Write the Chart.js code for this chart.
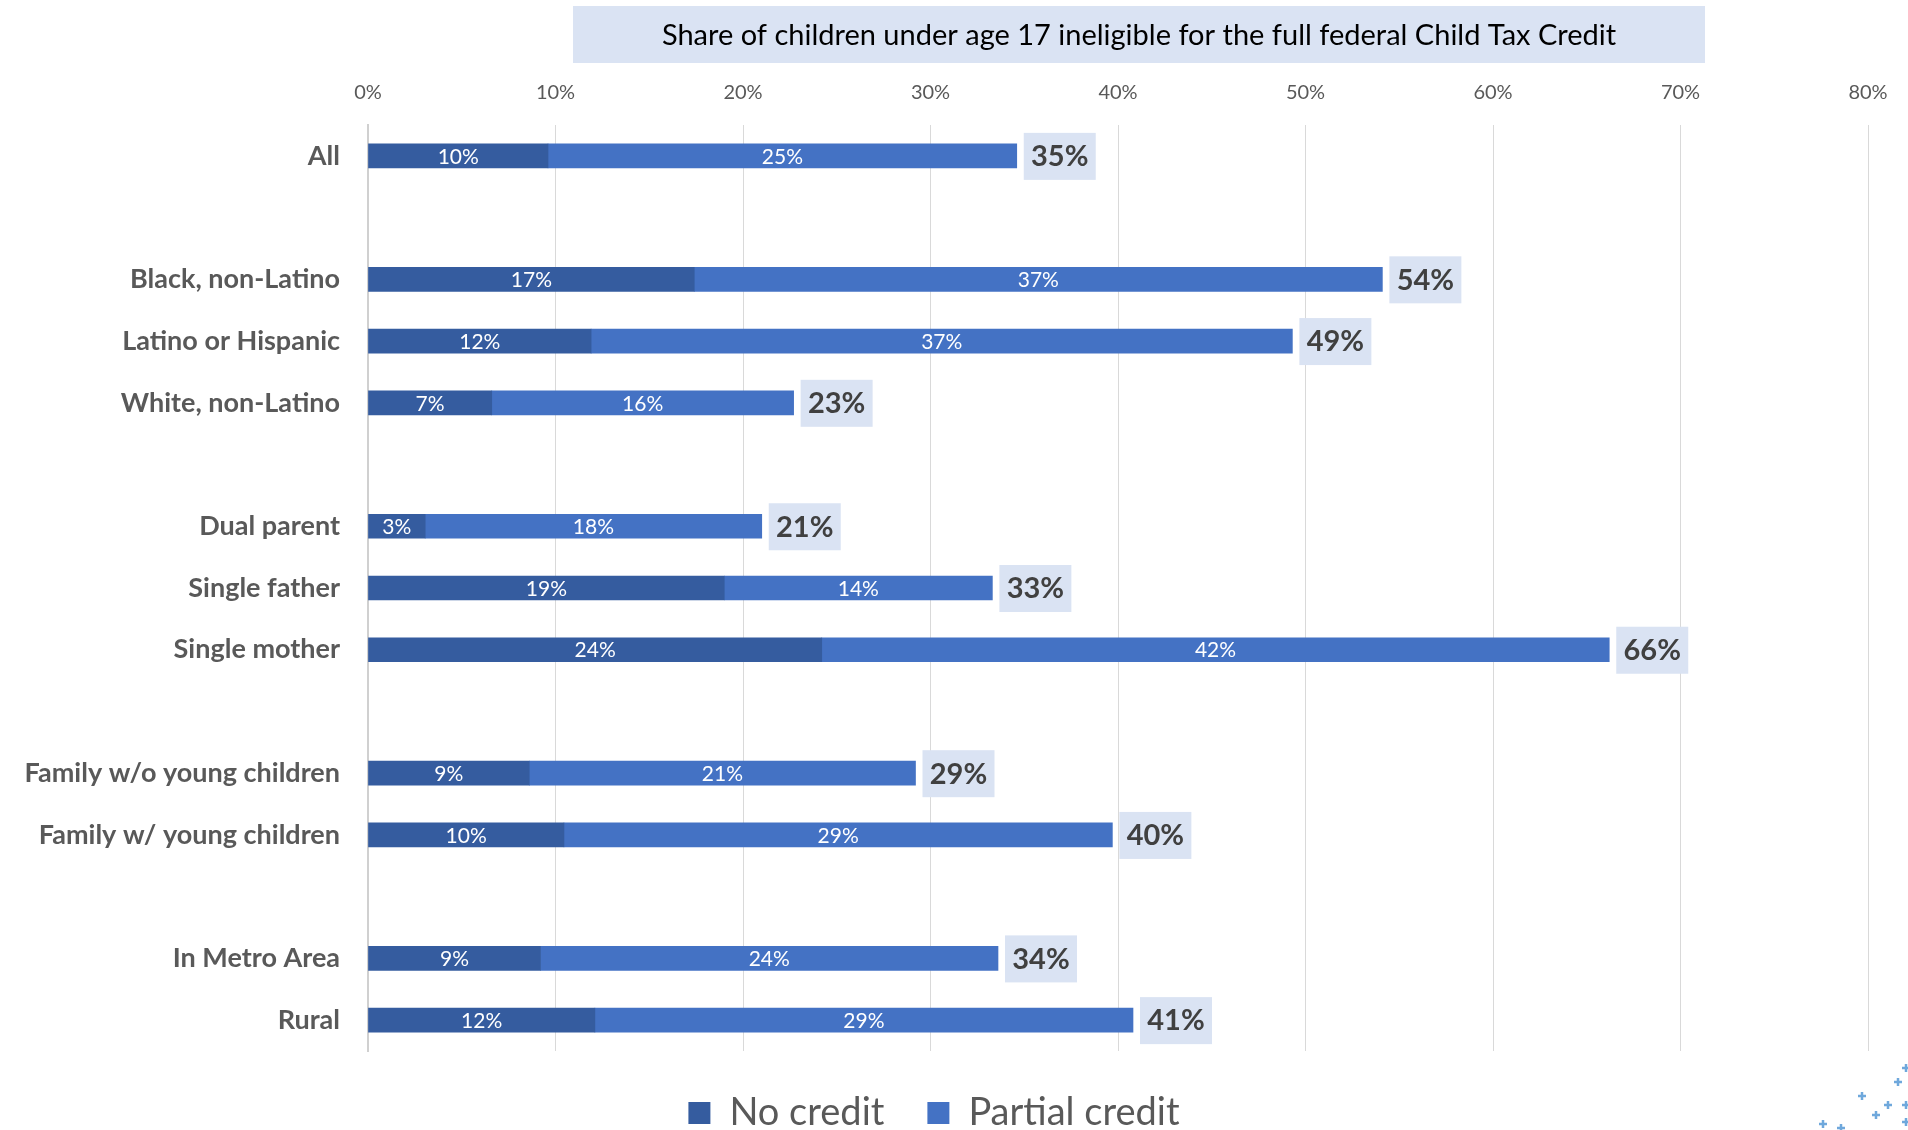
<!DOCTYPE html>
<html>
<head>
<meta charset="utf-8">
<script src="https://cdn.jsdelivr.net/npm/chart.js@4.4.1/dist/chart.umd.min.js"></script>
<style>
  html, body { margin: 0; padding: 0; background: #fff; }
  #wrap { width: 1908px; height: 1130px; }
</style>
</head>
<body>
<div id="wrap"><canvas id="chart" width="1908" height="1130"></canvas></div>
<script>
const chartTitle = 'Share of children under age 17 ineligible for the full federal Child Tax Credit';
const categories = ['All', '', 'Black, non-Latino', 'Latino or Hispanic', 'White, non-Latino', '',
    'Dual parent', 'Single father', 'Single mother', '',
    'Family w/o young children', 'Family w/ young children', '', 'In Metro Area', 'Rural'];
const noCredit = [9.6, null, 17.4, 11.9, 6.6, null, 3.05, 19.0, 24.2, null, 8.6, 10.45, null, 9.2, 12.1];
const partialCredit = [25.0, null, 36.7, 37.4, 16.1, null, 17.95, 14.3, 42.0, null, 20.6, 29.25, null, 24.4, 28.7];
const xMin = 0;
const xMax = 80;
const xStep = 10;

// title banner at the top + little logo crosses in the corner
const titleBox = {
    id: 'titleBox',
    beforeDraw(chart) {
        const ctx = chart.ctx;
        ctx.save();
        ctx.fillStyle = '#DAE3F3';
        ctx.fillRect(573, 6, 1132, 57);
        ctx.fillStyle = '#000';
        ctx.font = '29px Lato';
        ctx.textAlign = 'center';
        ctx.textBaseline = 'middle';
        ctx.fillText(chartTitle, 1139, 36);

        const crosses = [[1898, 1082], [1862, 1096], [1888, 1105], [1876, 1115], [1823, 1124],
            [1841, 1128], [1906, 1068], [1906, 1105], [1906, 1122]];
        ctx.strokeStyle = '#6FA8DC';
        ctx.lineWidth = 2.5;
        crosses.forEach(([cx, cy]) => {
            ctx.beginPath();
            ctx.moveTo(cx - 4, cy); ctx.lineTo(cx + 4, cy);
            ctx.moveTo(cx, cy - 4); ctx.lineTo(cx, cy + 4);
            ctx.stroke();
        });
        ctx.restore();
    }
};

// value labels inside the bars and totals at the end
const barLabels = {
    id: 'barLabels',
    afterDatasetsDraw(chart) {
        const ctx = chart.ctx;
        ctx.save();
        ctx.textAlign = 'center';
        ctx.textBaseline = 'middle';
        chart.data.datasets.forEach((ds, i) => {
            const meta = chart.getDatasetMeta(i);
            meta.data.forEach((bar, j) => {
                const v = ds.data[j];
                if (v == null) return;
                ctx.fillStyle = '#fff';
                ctx.font = '21px Lato';
                ctx.fillText(Math.round(v) + '%', (bar.x + bar.base) / 2, bar.y + 1);
            });
        });
        const last = chart.getDatasetMeta(1);
        last.data.forEach((bar, j) => {
            if (partialCredit[j] == null) return;
            const total = noCredit[j] + partialCredit[j];
            const x0 = bar.x + 7;
            ctx.fillStyle = '#DAE3F3';
            ctx.fillRect(x0, bar.y - 23, 72, 47);
            ctx.fillStyle = '#404040';
            ctx.font = 'bold 29px Lato';
            ctx.fillText(Math.round(total) + '%', x0 + 36, bar.y + 1);
        });
        ctx.restore();
    }
};

const ctx = document.getElementById('chart').getContext('2d');
new Chart(ctx, {
    type: 'bar',
    data: {
        labels: categories,
        datasets: [
            {
                label: 'No credit',
                data: noCredit,
                backgroundColor: '#355C9F',
                barThickness: 24
            },
            {
                label: 'Partial credit',
                data: partialCredit,
                backgroundColor: '#4472C4',
                barThickness: 24
            }
        ]
    },
    options: {
        indexAxis: 'y',
        responsive: false,
        animation: false,
        layout: {
            padding: { top: 66, right: 40, left: 0, bottom: -12 }
        },
        plugins: {
            title: { display: false },
            tooltip: { enabled: false },
            legend: {
                position: 'bottom',
                labels: {
                    color: '#595959',
                    font: { family: 'Lato', size: 38 },
                    boxWidth: 22,
                    boxHeight: 22,
                    padding: 43
                }
            }
        },
        scales: {
            x: {
                position: 'top',
                stacked: true,
                min: xMin,
                max: xMax,
                ticks: {
                    stepSize: xStep,
                    color: '#595959',
                    font: { family: 'Lato', size: 20 },
                    padding: 20,
                    callback: v => v + '%'
                },
                grid: { color: '#D9D9D9', drawTicks: false },
                border: { display: false },
                afterFit: s => { s.height = 59; }
            },
            y: {
                stacked: true,
                ticks: {
                    color: '#595959',
                    font: { family: 'Lato', size: 27, weight: 'bold' },
                    padding: 28,
                    autoSkip: false
                },
                grid: { display: false, drawTicks: false },
                border: { display: true, color: '#D0D0D0', width: 2 },
                afterFit: s => { s.width = 368; }
            }
        }
    },
    plugins: [titleBox, barLabels]
});
</script>
</body>
</html>
